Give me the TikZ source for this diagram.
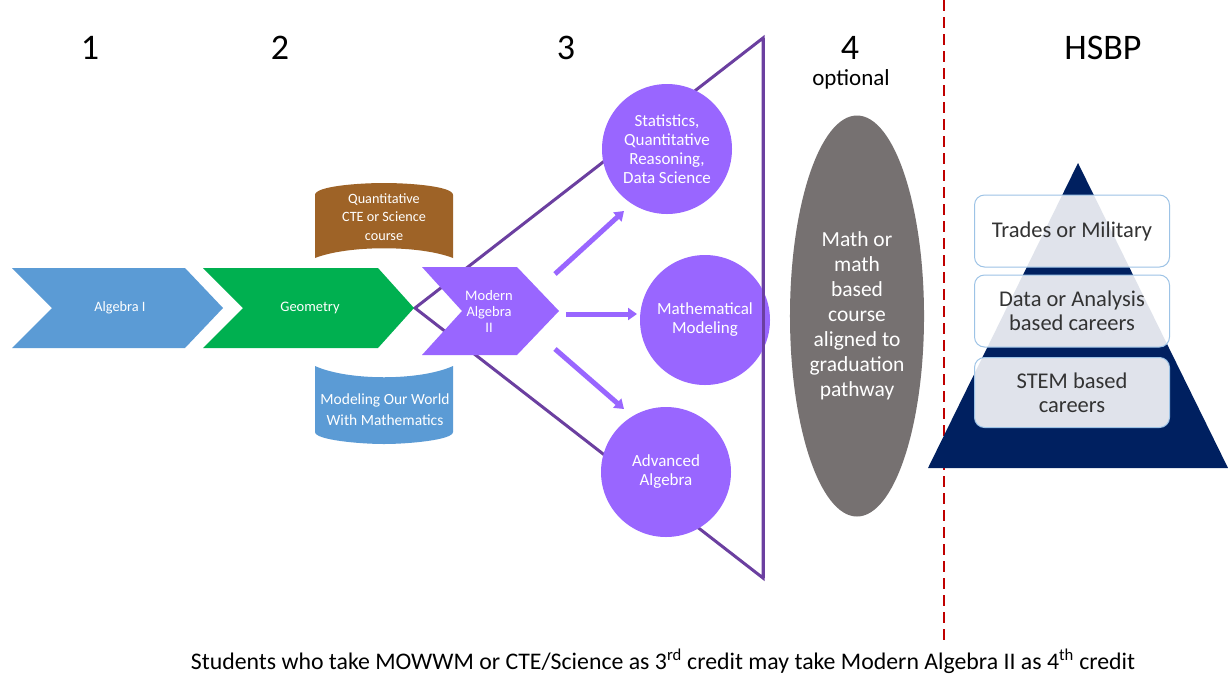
\documentclass[tikz,border=0pt]{standalone}
\usepackage{fontspec}
\setmainfont{Carlito}
\usetikzlibrary{arrows.meta,shapes.geometric}
\definecolor{algblue}{HTML}{5B9BD5}
\definecolor{geogreen}{HTML}{00B050}
\definecolor{purp}{HTML}{9966FF}
\definecolor{darkpurp}{HTML}{6B3FA0}
\definecolor{cteBrown}{HTML}{9E6327}
\definecolor{greyell}{HTML}{767171}
\definecolor{navy}{HTML}{002060}
\definecolor{redd}{HTML}{C00000}
\definecolor{boxborder}{HTML}{9DC3E6}
\definecolor{txtgrey}{HTML}{333333}
\begin{document}
\begin{tikzpicture}[x=1pt,y=-1pt,
  head/.style={font=\fontsize{36}{40}\selectfont, text=black},
  chevtext/.style={text=white, align=center, inner sep=0pt},
  circ/.style={circle, fill=purp, minimum size=130pt, inner sep=0pt, text=white, align=center, font=\fontsize{17}{19}\selectfont},
  parrow/.style={draw=purp, line width=5pt, -{Triangle[length=9pt,width=12pt]}},
  tri/.style={draw=darkpurp, line width=3pt, line join=miter},
  pbox/.style={rounded corners=10pt, draw=boxborder, line width=1pt, fill=white, fill opacity=0.88, text opacity=1, text=txtgrey, align=center, minimum width=195pt, inner sep=0pt, font=\fontsize{22.5}{24}\selectfont}]
\useasboundingbox (0,0) rectangle (1228,673);
\fill[white] (0,0) rectangle (1228,673);

% headings
\node[head] (h1) at (90,48) {1};
\node[head] (h2) at (280,48) {2};
\node[head] (h3) at (566,48) {3};
\node[head] (h4) at (850,48) {4};
\node[font=\fontsize{23}{26}\selectfont] (opt) at (851,79) {optional};
\node[head] (hsbp) at (1103,48) {HSBP};

% big purple triangle
\coordinate (apex) at (415,308);
\coordinate (ttop) at (763,38);
\coordinate (tbot) at (763,578);
\draw[tri] (ttop) -- (apex) -- (tbot) -- cycle;

% Algebra I chevron
\fill[algblue] (12,268) -- (185,268) -- (223,308) -- (185,348) -- (12,348) -- (52,308) -- cycle;
\node[chevtext, font=\fontsize{14.3}{16}\selectfont] (alg1) at (120,308) {Algebra I};
% Geometry chevron
\fill[geogreen] (203,268) -- (378,268) -- (414,308) -- (378,348) -- (203,348) -- (243,308) -- cycle;
\node[chevtext, font=\fontsize{14.5}{16}\selectfont] (geo) at (310,308) {Geometry};
% Modern Algebra II chevron
\fill[purp] (422,267) -- (517,267) -- (559,311) -- (517,355) -- (422,355) -- (462,311) -- cycle;
\node[chevtext, font=\fontsize{14.5}{16}\selectfont] (mod) at (489,311) {Modern\\Algebra\\II};

% brown cylinder
\fill[cteBrown] (315,258) -- (315,195) .. controls (315,186) and (360,183) .. (384,183)
  .. controls (408,183) and (453,186) .. (453,195) -- (453,258)
  .. controls (420,245) and (348,245) .. (315,258) -- cycle;
\node[chevtext, font=\fontsize{14.2}{18.5}\selectfont] (cte) at (384,217) {Quantitative\\CTE or Science\\course};

% blue cylinder
\fill[algblue] (315,366) .. controls (348,381) and (420,381) .. (453,366) -- (453,432)
  .. controls (453,440) and (408,444) .. (384,444) .. controls (360,444) and (315,440) .. (315,432) -- cycle;
\node[chevtext, font=\fontsize{15.5}{21}\selectfont] (mowwm) at (385,410) {Modeling Our World\\With Mathematics};

% circles
\node[circ] (stat) at (667,149) {Statistics,\\Quantitative\\Reasoning,\\Data Science};
\node[circ] (mm) at (705,320) {Mathematical\\Modeling};
\node[circ] (adv) at (666,472) {Advanced\\Algebra};
\draw[tri] (ttop) -- (tbot);

% arrows
\coordinate (a1s) at (555,274); \coordinate (a1e) at (624,211);
\coordinate (a2s) at (566,314); \coordinate (a2e) at (637,314);
\coordinate (a3s) at (555,349); \coordinate (a3e) at (624,409);
\draw[parrow] (a1s) -- (a1e);
\draw[parrow] (a2s) -- (a2e);
\draw[parrow] (a3s) -- (a3e);

% grey ellipse
\node[ellipse, fill=greyell, minimum width=121pt, minimum height=401pt, inner sep=0pt, text=white, align=center, font=\fontsize{21.5}{25}\selectfont] (opt4) at (857,316) {Math or\\math\\based\\course\\aligned to\\graduation\\pathway};

% red dashed divider
\coordinate (rtop) at (944,0);
\coordinate (rbot) at (944,642);
\draw[redd, line width=2.5pt, dash pattern=on 11pt off 6pt] (rtop) -- (rbot);

% pyramid
\fill[navy] (1078,163) -- (928,468) -- (1228,468) -- cycle;
\node[pbox, minimum height=72pt] (b1) at (1072,231) {Trades or Military};
\node[pbox, minimum height=72pt] (b2) at (1072,311) {Data or Analysis\\based careers};
\node[pbox, minimum height=70pt] (b3) at (1072,392.5) {STEM based\\careers};

% bottom note
\node[font=\fontsize{23.8}{26}\selectfont, text=black] (note) at (663,661) {Students who take MOWWM or CTE/Science as 3\textsuperscript{rd} credit may take Modern Algebra II as 4\textsuperscript{th} credit};
\end{tikzpicture}
\end{document}
